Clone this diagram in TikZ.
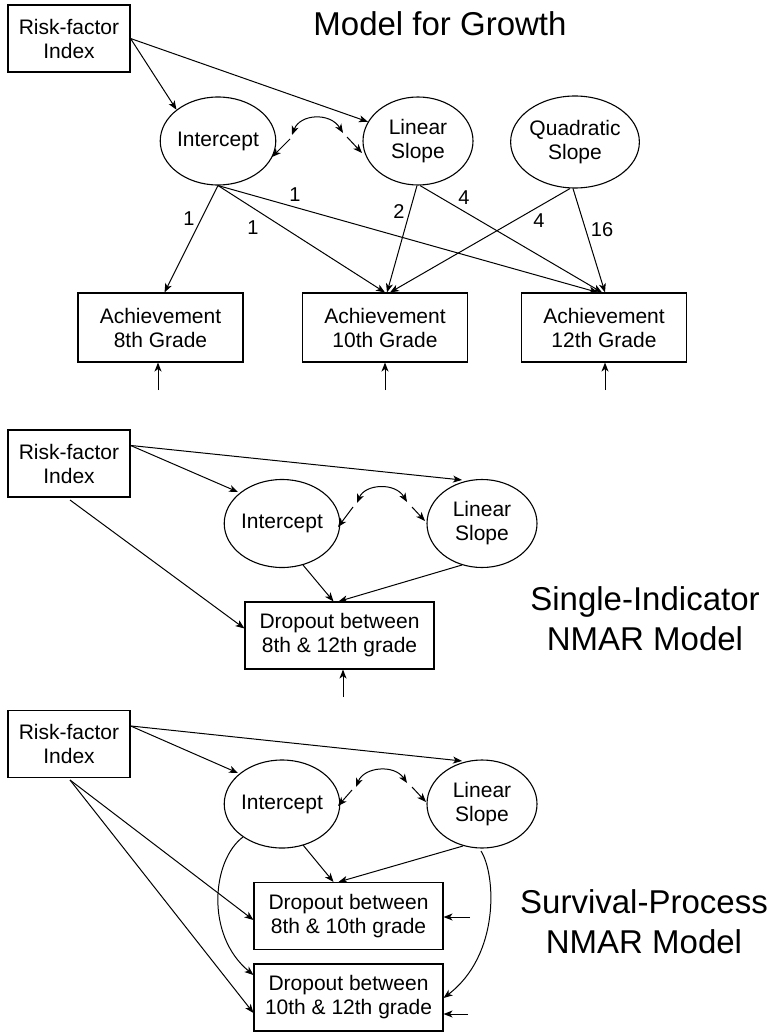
\documentclass[tikz,border=0pt]{standalone}
\usepackage{fontspec}
\setmainfont{Liberation Sans}
\usetikzlibrary{shapes.geometric,arrows.meta}
\begin{document}
\begin{tikzpicture}[x=1pt,y=-1pt,
  every node/.style={font=\fontsize{21}{24}\selectfont},
  box/.style={draw,line width=1.1pt,rectangle,inner sep=0pt,align=center},
  rfbox/.style={box,minimum width=122pt,minimum height=67pt},
  achbox/.style={box,minimum width=165pt,minimum height=69pt},
  dropbox/.style={box,minimum width=189pt,minimum height=67pt},
  latent/.style={draw,line width=1.1pt,ellipse,inner sep=0pt,align=center,minimum width=110pt,minimum height=88pt},
  arr/.style={line width=1pt,-{Stealth[length=9pt,width=7pt,inset=2.5pt]}},
  darr/.style={line width=1pt,{Stealth[length=9pt,width=7pt,inset=2.5pt]}-{Stealth[length=9pt,width=7pt,inset=2.5pt]}},
  lbl/.style={font=\fontsize{20}{24}\selectfont,inner sep=0pt},
  title/.style={font=\fontsize{33}{40}\selectfont,align=center,inner sep=0pt}]
\useasboundingbox (0,0) rectangle (772,1032);

% ---------------- Model for Growth ----------------
\node[title] (t1) at (440,24) {Model for Growth};
\node[rfbox] (rf1) at (69,38.5) {Risk-factor\\Index};
\node[latent] (int1) at (218,141) {Intercept};
\node[latent] (lin1) at (418,141) {Linear\\Slope};
\node[latent,minimum width=118pt,minimum height=92pt] (quad1) at (575,142) {Quadratic\\Slope};
\node[achbox] (ach8) at (160.5,327.5) {Achievement\\8th Grade};
\node[achbox] (ach10) at (385,327.5) {Achievement\\10th Grade};
\node[achbox] (ach12) at (604,327.5) {Achievement\\12th Grade};

\draw[arr] (rf1.east) -- (int1.143);
\draw[arr] (rf1.east) -- (lin1.159);
% covariance
\coordinate (c1a) at (290,139);
\coordinate (c1b) at (292,135);
\coordinate (c1c) at (343,133);
\coordinate (c1d) at (347,137);
\draw[arr] (c1a) -- (272,157);
\draw[darr] (c1b) .. controls (300,114) and (330,112) .. (c1c);
\draw[arr] (c1d) -- (362,153);

\draw[arr] (int1.south) -- ([xshift=4pt]ach8.north);
\draw[arr] (int1.south) -- (ach10.north);
\draw[arr] (int1.south) -- ([xshift=-6pt]ach12.north);
\draw[arr] ([xshift=-1pt]lin1.south) -- ([xshift=2pt]ach10.north);
\draw[arr] ([xshift=2pt]lin1.south) -- ([xshift=-2pt]ach12.north);
\draw[arr] ([xshift=-5pt]quad1.south) -- ([xshift=5pt]ach10.north);
\draw[arr] ([xshift=-2pt]quad1.south) -- ([xshift=1pt]ach12.north);

\node[lbl] (l1) at (189,219) {1};
\node[lbl] (l2) at (253,228) {1};
\node[lbl] (l3) at (295,195) {1};
\node[lbl] (l4) at (399,212) {2};
\node[lbl] (l5) at (464,198) {4};
\node[lbl] (l6) at (539,221) {4};
\node[lbl] (l7) at (602,230) {16};

\coordinate (e8) at (158,390);
\coordinate (e10) at (385,390);
\coordinate (e12) at (605,390);
\draw[arr] (e8) -- (ach8.south -| e8);
\draw[arr] (e10) -- (ach10.south -| e10);
\draw[arr] (e12) -- (ach12.south -| e12);

% ---------------- Single-Indicator ----------------
\node[title] (t2) at (645,619) {Single-Indicator\\NMAR Model};
\node[rfbox] (rf2) at (69,463.5) {Risk-factor\\Index};
\node[latent] (int2) at (282,523.5) {Intercept};
\node[latent] (lin2) at (482,523.5) {Linear\\Slope};
\node[dropbox] (drop) at (339.5,635.5) {Dropout between\\8th \& 12th grade};

\draw[arr] ([yshift=-16pt]rf2.north east) -- (238,492);
\draw[arr] ([yshift=-16pt]rf2.north east) -- (462,480);
\coordinate (r2s) at (70,500);
\draw[arr] (r2s) -- ([yshift=7pt]drop.west);
\draw[arr] (303,565) -- ([xshift=-6pt]drop.north);
\draw[arr] (462,565) -- ([xshift=-1pt]drop.north);
\coordinate (c2a) at (353,507);
\coordinate (c2b) at (357,503);
\coordinate (c2c) at (407,502);
\coordinate (c2d) at (412,507);
\draw[arr] (c2a) -- (338,527);
\draw[darr] (c2b) .. controls (365,484) and (395,482) .. (c2c);
\draw[arr] (c2d) -- (425,521);
\coordinate (ed) at (343,697);
\draw[arr] (ed) -- (drop.south -| ed);

% ---------------- Survival-Process ----------------
\node[title] (t3) at (644,922) {Survival-Process\\NMAR Model};
\node[rfbox] (rf3) at (69,744) {Risk-factor\\Index};
\node[latent] (int3) at (282,804) {Intercept};
\node[latent] (lin3) at (482,804) {Linear\\Slope};
\node[dropbox] (d1) at (348.5,916) {Dropout between\\8th \& 10th grade};
\node[dropbox] (d2) at (348.5,997.5) {Dropout between\\10th \& 12th grade};

\draw[arr] ([yshift=-16pt]rf3.north east) -- (238,773);
\draw[arr] ([yshift=-16pt]rf3.north east) -- (462,761);
\coordinate (r3s) at (70,780);
\draw[arr] (r3s) -- ([yshift=-4pt]d1.west);
\draw[arr] (r3s) -- ([yshift=-15.5pt]d2.west);
\draw[arr] (303,845) -- ([xshift=-15pt]d1.north);
\draw[arr] (463,846) -- ([xshift=-10pt]d1.north);
\draw[arr] (243,837) .. controls (212,860) and (205,935) .. ([yshift=22.5pt]d2.west);
\draw[arr] (481,851) .. controls (496,875) and (500,955) .. ([yshift=-0.5pt]d2.east);
\coordinate (c3a) at (352,790);
\coordinate (c3b) at (356,787);
\coordinate (c3c) at (407,783);
\coordinate (c3d) at (412,787);
\draw[arr] (c3a) -- (338,806);
\draw[darr] (c3b) .. controls (364,767) and (394,764) .. (c3c);
\draw[arr] (c3d) -- (426,802);
\coordinate (ed1) at (470,917);
\coordinate (ed2) at (468,1014);
\draw[arr] (ed1) -- (d1.east |- ed1);
\draw[arr] (ed2) -- (d2.east |- ed2);
\end{tikzpicture}
\end{document}
